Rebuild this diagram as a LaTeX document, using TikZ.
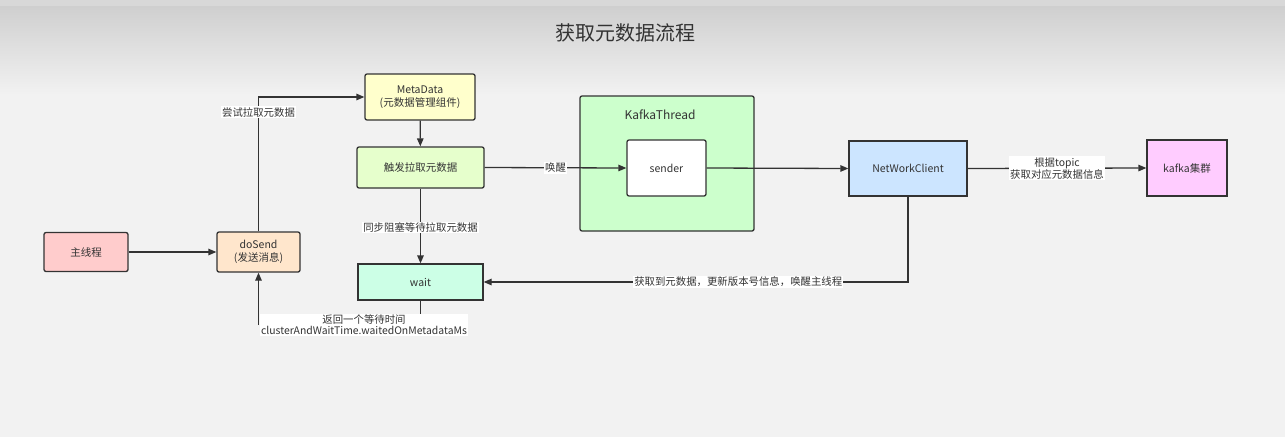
\documentclass[tikz,border=0pt]{standalone}
\usepackage{fontspec}
\setmainfont{Noto Sans CJK SC}
\usetikzlibrary{arrows.meta}
\definecolor{bg}{HTML}{F2F2F2}
\definecolor{ln}{HTML}{333333}
\definecolor{tx}{HTML}{333333}
\tikzset{
  box/.style={draw=ln,line width=1.3pt,rounded corners=2pt,text=tx,font=\fontsize{10.5}{12.5}\selectfont,align=center,inner sep=0pt},
  sbox/.style={box,rounded corners=0pt},
  conn/.style={draw=ln,line width=1.3pt,-{Triangle[length=8pt,width=6.5pt]}},
  plain/.style={draw=ln,line width=1.3pt},
  lbl/.style={fill=white,text=tx,font=\fontsize{10.4}{11}\selectfont,inner sep=1pt,align=center}
}
\begin{document}
\begin{tikzpicture}[x=1pt,y=-1pt]
\useasboundingbox (0,0) rectangle (1285,437);
\fill[bg] (0,0) rectangle (1285,437);
\fill[color={rgb,255:red,216;green,216;blue,216}] (0,0) rectangle (1285,6);
\shade[top color={rgb,255:red,207;green,207;blue,207},bottom color=bg] (0,6) rectangle (1285,95);
\node[text={rgb,255:red,51;green,51;blue,51},font=\fontsize{20}{22}\selectfont] (title) at (625,33) {获取元数据流程};

\node[box,fill={rgb,255:red,255;green,204;blue,204},minimum width=84pt,minimum height=39pt] (main) at (86,252) {主线程};
\node[box,fill={rgb,255:red,255;green,230;blue,204},minimum width=83pt,minimum height=40pt] (dosend) at (258.5,252) {doSend\\(发送消息)};
\node[box,fill={rgb,255:red,255;green,255;blue,204},minimum width=110pt,minimum height=46pt] (meta) at (420,97) {MetaData\\(元数据管理组件)};
\node[box,fill={rgb,255:red,230;green,255;blue,204},minimum width=127pt,minimum height=41pt] (trig) at (420.5,167.5) {触发拉取元数据};
\node[sbox,fill={rgb,255:red,204;green,255;blue,230},minimum width=125pt,minimum height=36pt] (wait) at (420.5,282) {wait};
\node[box,fill={rgb,255:red,204;green,255;blue,204},minimum width=174pt,minimum height=135pt] (kt) at (667,163.5) {};
\node[text=tx,font=\fontsize{12}{14}\selectfont] (ktl) at (660,115) {KafkaThread};
\node[box,fill=white,minimum width=79pt,minimum height=56pt] (sender) at (666.5,168) {sender};
\node[sbox,fill={rgb,255:red,204;green,229;blue,255},minimum width=118pt,minimum height=55pt] (nc) at (908,168.5) {NetWorkClient};
\node[sbox,fill={rgb,255:red,255;green,204;blue,255},minimum width=80pt,minimum height=56pt] (kc) at (1187,168) {kafka集群};

\draw[conn] (main) -- (dosend);
\draw[conn] (dosend.north) |- node[lbl,pos=0.444] {尝试拉取元数据} (meta.west);
\draw[conn] (meta) -- (trig);
\draw[conn] (trig.east) -- node[lbl,pos=0.5] {唤醒} (sender.west);
\draw[conn] (sender.east) -- (nc.west);
\draw[conn] (nc.east) -- node[lbl,pos=0.5] {根据topic\\获取对应元数据信息} (kc.west);
\draw[conn] (trig.south) -- node[lbl,pos=0.52] {同步阻塞等待拉取元数据} (wait.north);
\draw[conn] (nc.south) |- node[lbl,pos=0.70] {获取到元数据，更新版本号信息，唤醒主线程} (wait.east);
\coordinate (c1) at (420.5,325);
\coordinate (c2) at (258.5,325);
\draw[plain] (wait.south) -- (c1);
\draw[conn] (c2) -- (dosend.south);
\node[lbl] (retl) at (364,325) {返回一个等待时间\\clusterAndWaitTime.waitedOnMetadataMs};
\end{tikzpicture}
\end{document}
